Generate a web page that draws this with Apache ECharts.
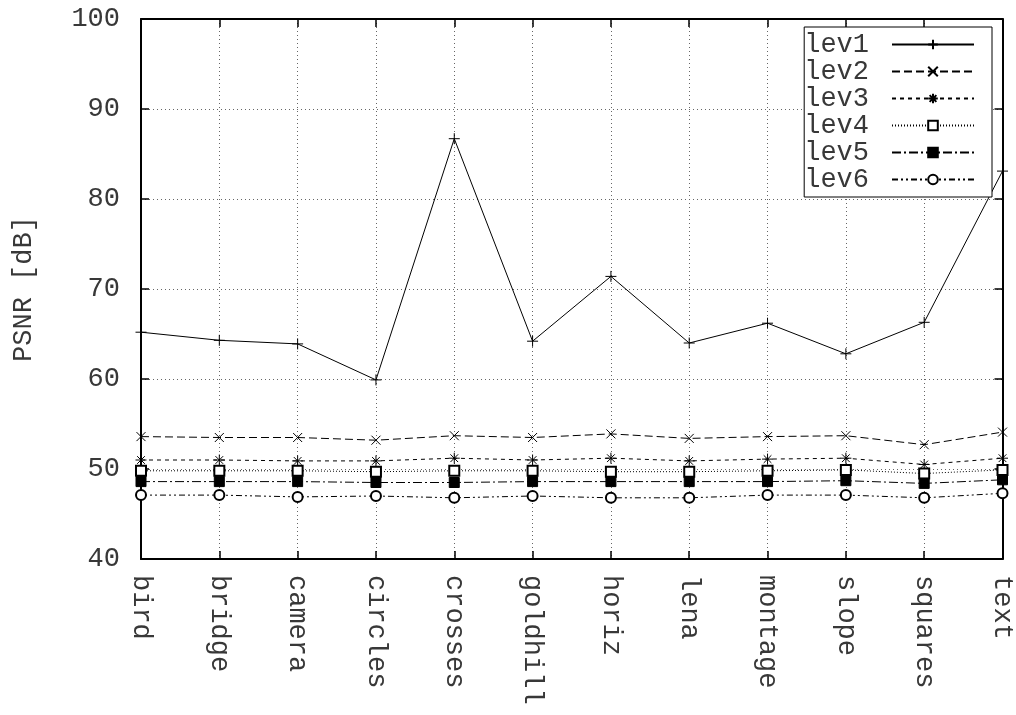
<!DOCTYPE html>
<html><head><meta charset="utf-8">
<script src="https://cdn.jsdelivr.net/npm/echarts@6/dist/echarts.min.js"></script>
<style>html,body{margin:0;padding:0;background:#fff}#c{width:1016px;height:715px}</style>
</head><body><div id="c"></div>
<script>
const categories = ['bird','bridge','camera','circles','crosses','goldhill','horiz','lena','montage','slope','squares','text'];
const lev1 = [65.2, 64.3, 63.9, 59.9, 86.7, 64.2, 71.4, 64.0, 66.2, 62.8, 66.3, 83.1];
const lev2 = [53.6, 53.5, 53.5, 53.2, 53.7, 53.5, 53.9, 53.4, 53.6, 53.7, 52.7, 54.1];
const lev3 = [51.0, 51.0, 50.9, 50.9, 51.2, 51.0, 51.2, 50.9, 51.1, 51.2, 50.5, 51.2];
const lev4 = [49.8, 49.8, 49.8, 49.7, 49.8, 49.8, 49.7, 49.7, 49.8, 49.9, 49.5, 49.9];
const lev5 = [48.6, 48.6, 48.6, 48.5, 48.5, 48.6, 48.6, 48.6, 48.6, 48.7, 48.4, 48.8];
const lev6 = [47.1, 47.1, 46.9, 47.0, 46.8, 47.0, 46.8, 46.8, 47.1, 47.1, 46.8, 47.3];
const yTicks = [40, 50, 60, 70, 80, 90, 100];
const seriesNames = ['lev1','lev2','lev3','lev4','lev5','lev6'];

const FONT = 'Liberation Mono';
const TXT = '#383838';
const styles = [
  {dash:'solid', symbol:'path://M0,5L10,5M5,0L5,10', size:11},
  {dash:[8,4], symbol:'path://M0,0L10,10M10,0L0,10', size:9},
  {dash:[4,4], symbol:'path://M0,5L10,5M5,0L5,10M1.5,1.5L8.5,8.5M8.5,1.5L1.5,8.5', size:11},
  {dash:[1,2], symbol:'emptyRect', size:10},
  {dash:[9,3,2,3], symbol:'rect', size:10},
  {dash:[6,3,2,3,2,3], symbol:'emptyCircle', size:10}
];
const data = [lev1, lev2, lev3, lev4, lev5, lev6];

const series = data.map((d, i) => ({
  name: seriesNames[i],
  type: 'line',
  data: d,
  xAxisIndex: 0, yAxisIndex: 0,
  symbol: styles[i].symbol,
  symbolSize: styles[i].size,
  showAllSymbol: true,
  lineStyle: {color:'#000', width:1, type: styles[i].dash},
  itemStyle: {color: '#000', borderColor:'#000', borderWidth:1},
  emphasis: {disabled: true},
  animation: false,
  z: 3
}));

const chart = echarts.init(document.getElementById('c'), null, {renderer:'canvas'});
chart.setOption({
  backgroundColor: '#fff',
  animation: false,
  grid: {left:141, right:6, top:19, bottom:156, containLabel:false},
  legend: {
    orient: 'vertical', right: 24, top: 27,
    align: 'right',
    data: seriesNames,
    backgroundColor: '#fff',
    borderColor: '#000', borderWidth: 1, borderRadius: 0,
    padding: [4, 17, 4, 0],
    itemWidth: 82, itemHeight: 12, itemGap: 0,
    textStyle: {fontFamily: FONT, fontSize: 27, color: TXT, lineHeight: 25, padding: [0, 18, 0, 0]},
    z: 10
  },
  xAxis: [{
    type: 'category', data: categories, boundaryGap: false, position: 'bottom',
    axisLine: {show: true, lineStyle: {color:'#000', width: 2}},
    axisTick: {show: true, inside: true, length: 8, lineStyle: {color:'#000', width: 1.5}},
    axisLabel: {rotate: -90, margin: 16, fontFamily: FONT, fontSize: 27, color: TXT, interval: 0},
    splitLine: {show: true, lineStyle: {color:'#666', width: 1, type: [1,3]}}
  },{
    type: 'category', data: categories, boundaryGap: false, position: 'top',
    axisLine: {show: true, lineStyle: {color:'#000', width: 2}},
    axisTick: {show: true, inside: true, length: 8, lineStyle: {color:'#000', width: 1.5}},
    axisLabel: {show: false}, splitLine: {show: false}
  }],
  yAxis: [{
    type: 'value', min: 40, max: 100, interval: 10, position: 'left',
    name: 'PSNR [dB]', nameLocation: 'middle', nameGap: 104, nameRotate: 90,
    nameTextStyle: {fontFamily: FONT, fontSize: 27, color: TXT},
    axisLine: {show: true, lineStyle: {color:'#000', width: 2}},
    axisTick: {show: true, inside: true, length: 8, lineStyle: {color:'#000', width: 1.5}},
    axisLabel: {margin: 21, fontFamily: FONT, fontSize: 27, color: TXT,
      formatter: v => yTicks.indexOf(v) >= 0 ? String(v) : ''},
    splitLine: {show: true, lineStyle: {color:'#666', width: 1, type: [1,3]}}
  },{
    type: 'value', min: 40, max: 100, interval: 10, position: 'right',
    axisLine: {show: true, lineStyle: {color:'#000', width: 2}},
    axisTick: {show: true, inside: true, length: 8, lineStyle: {color:'#000', width: 1.5}},
    axisLabel: {show: false}, splitLine: {show: false}
  }],
  series: series
});
</script></body></html>
